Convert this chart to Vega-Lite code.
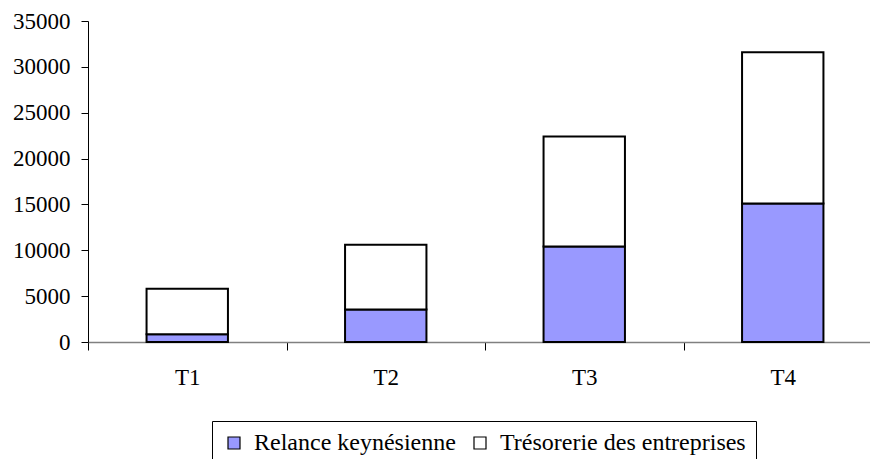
{
  "$schema": "https://vega.github.io/schema/vega-lite/v6.json",
  "autosize": {"type": "none"},
  "padding": {"left": 88, "top": 21, "right": -12, "bottom": 117},
  "width": 794,
  "height": 321,
  "background": "white",
  "data": {
    "values": [
      {"periode": "T1", "serie": "Relance keynésienne", "valeur": 850},
      {"periode": "T1", "serie": "Trésorerie des entreprises", "valeur": 4950},
      {"periode": "T2", "serie": "Relance keynésienne", "valeur": 3550},
      {"periode": "T2", "serie": "Trésorerie des entreprises", "valeur": 7050},
      {"periode": "T3", "serie": "Relance keynésienne", "valeur": 10400},
      {"periode": "T3", "serie": "Trésorerie des entreprises", "valeur": 12000},
      {"periode": "T4", "serie": "Relance keynésienne", "valeur": 15100},
      {"periode": "T4", "serie": "Trésorerie des entreprises", "valeur": 16500}
    ]
  },
  "mark": {"type": "bar", "stroke": "black", "strokeWidth": 2, "width": {"band": 0.41}},
  "encoding": {
    "x": {
      "field": "periode",
      "type": "nominal",
      "scale": {"paddingInner": 0, "paddingOuter": 0},
      "axis": {
        "title": null,
        "labelAngle": 0,
        "tickBand": "extent",
        "tickSize": 8,
        "tickColor": "black",
        "domainColor": "#808080",
        "domainWidth": 1.5,
        "labelFont": "Liberation Serif",
        "labelFontSize": 23,
        "labelColor": "black",
        "labelPadding": 16
      }
    },
    "y": {
      "field": "valeur",
      "type": "quantitative",
      "stack": "zero",
      "scale": {"domain": [0, 35000], "nice": false},
      "axis": {
        "title": null,
        "grid": false,
        "values": [0, 5000, 10000, 15000, 20000, 25000, 30000, 35000],
        "format": "d",
        "tickSize": 7,
        "tickColor": "black",
        "domainColor": "black",
        "labelFont": "Liberation Serif",
        "labelFontSize": 23,
        "labelColor": "black",
        "labelPadding": 11
      }
    },
    "order": {"field": "serie", "sort": "ascending"},
    "color": {
      "field": "serie",
      "type": "nominal",
      "scale": {
        "domain": ["Relance keynésienne", "Trésorerie des entreprises"],
        "range": ["#9999FF", "#FFFFFF"]
      },
      "legend": {
        "title": null,
        "orient": "none",
        "legendX": 124,
        "legendY": 400,
        "direction": "horizontal",
        "strokeColor": "black",
        "padding": 10,
        "symbolType": "square",
        "symbolSize": 144,
        "symbolStrokeColor": "black",
        "symbolStrokeWidth": 1.2,
        "labelFont": "Liberation Serif",
        "labelFontSize": 24,
        "labelColor": "black",
        "labelLimit": 500,
        "labelOffset": 8,
        "columnPadding": 12
      }
    }
  },
  "config": {"view": {"stroke": null}}
}
